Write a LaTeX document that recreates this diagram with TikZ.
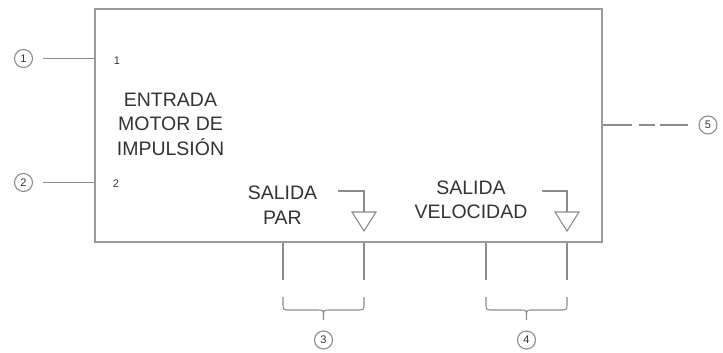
\documentclass[tikz,border=0pt]{standalone}
\usepackage{fontspec}
\setmainfont{Liberation Sans}
\definecolor{linegray}{HTML}{8C8C8C}
\definecolor{boxgray}{HTML}{9A9A9A}
\definecolor{txt}{HTML}{333333}
\begin{document}
\begin{tikzpicture}[x=1pt,y=-1pt,
  conn/.style={draw=linegray,line width=1.1pt},
  circ/.style={circle,draw=linegray,line width=1.1pt,minimum size=18pt,inner sep=0pt,
    text=txt,font=\fontsize{11}{11}\selectfont},
  bigtxt/.style={text=txt,align=center,inner sep=0pt,font=\fontsize{19.5}{24.5}\selectfont},
  smalltxt/.style={text=txt,inner sep=0pt,font=\fontsize{11}{11}\selectfont},
  tri/.style={draw=linegray,line width=1.1pt,line join=miter}]
\useasboundingbox (0,0) rectangle (723,353);
% main box
\node[draw=boxgray,line width=1.8pt,minimum width=507pt,minimum height=233pt,inner sep=0pt,anchor=north west] (box) at (94,8) {};
% texts
\node[bigtxt] (main) at (170.5,124) {ENTRADA\\MOTOR DE\\IMPULSIÓN};
\node[smalltxt] (n1) at (117,61) {1};
\node[smalltxt] (n2) at (116,184) {2};
\node[bigtxt] (par) at (282.5,205) {SALIDA\\PAR};
\node[bigtxt] (vel) at (471,200) {SALIDA\\VELOCIDAD};
% left callouts
\node[circ] (c1) at (23.5,58.5) {1};
\node[circ] (c2) at (23.5,182.5) {2};
\draw[conn] ([xshift=10pt]c1.east) -- (c1 -| box.west);
\draw[conn] ([xshift=10pt]c2.east) -- (c2 -| box.west);
% right callout
\node[circ] (c5) at (708,125) {5};
\draw[conn,dash pattern=on 29pt off 7pt on 16pt off 5pt on 31pt off 100pt] (c5 -| box.east) -- ([xshift=-10pt]c5.west);
% output arrows
\coordinate (ta) at (338,191);
\coordinate (tb) at (364,191);
\coordinate (tc) at (364,212);
\draw[conn] (ta) -- (tb) -- (tc);
\draw[tri] (352,212) -- (376,212) -- (364,231) -- cycle;
\coordinate (va) at (542,191);
\coordinate (vb) at (567,191);
\coordinate (vc) at (567,212);
\draw[conn] (va) -- (vb) -- (vc);
\draw[tri] (555,212) -- (579,212) -- (567,231) -- cycle;
% output terminals
\coordinate (p3a) at (283,280);
\coordinate (p3b) at (364,280);
\coordinate (p4a) at (486,280);
\coordinate (p4b) at (567,280);
\foreach \p in {p3a,p3b,p4a,p4b} \draw[conn] (\p |- box.south) -- (\p);
% braces
\foreach \xa/\xb in {283/364,486/567}{
  \pgfmathsetmacro{\xm}{(\xa+\xb)/2}
  \draw[conn,line join=round]
    (\xa,297) -- (\xa,303) .. controls (\xa,310) .. (\xa+7,310)
    -- (\xm-6,310) .. controls (\xm,310) .. (\xm,317) -- (\xm,320)
    (\xm,317) .. controls (\xm,310) .. (\xm+6,310)
    -- (\xb-7,310) .. controls (\xb,310) .. (\xb,303) -- (\xb,297);
}
\node[circ] (c3) at (323.5,340) {3};
\node[circ] (c4) at (526.5,340) {4};
\end{tikzpicture}
\end{document}
